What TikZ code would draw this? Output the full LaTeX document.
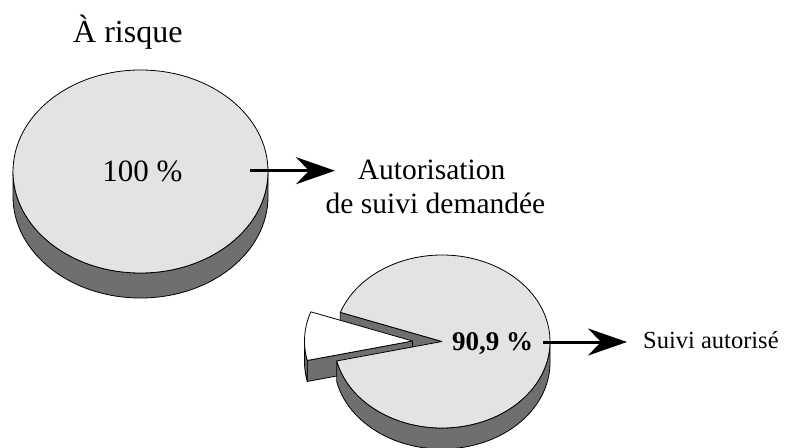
\documentclass[tikz,border=0pt]{standalone}
\usepackage{fontspec}
\setmainfont{Liberation Serif}
\usetikzlibrary{arrows.meta,calc}
\definecolor{topgray}{HTML}{E3E3E3}
\definecolor{sidegray}{HTML}{6F6F6F}
\tikzset{
  topface/.style={fill=topgray,draw=black,line width=0.8pt,line join=round},
  sideface/.style={fill=sidegray,draw=black,line width=0.8pt,line join=round},
  slicetop/.style={fill=white,draw=black,line width=0.8pt,line join=round},
  arr/.style={line width=3pt,-{Stealth[length=39pt,width=27pt,inset=13pt]}},
  lbl/.style={inner sep=0pt}
}
\begin{document}
\begin{tikzpicture}[x=1pt,y=1pt]
\useasboundingbox (0,0) rectangle (791,447);
% ---------- big pie
\coordinate (c1) at (140.5,275.5);
\draw[sideface] ($(c1)+(-127.5,0)$) -- ++(0,-25)
  arc[start angle=180,end angle=360,x radius=127.5pt,y radius=101.5pt]
  -- ++(0,25)
  arc[start angle=0,end angle=-180,x radius=127.5pt,y radius=101.5pt] -- cycle;
\draw[topface] (c1) ellipse[x radius=127.5pt,y radius=101.5pt];
% ---------- small pie
\coordinate (c2) at (442,105.5);
\coordinate (e2) at (412.5,106);
% back cut face of remaining pie (visible through gap)
\draw[sideface] (c2) -- ($(c2)+(160.3:108pt and 86.5pt)$) -- ++(0,-21) -- ($(c2)+(0,-21)$) -- cycle;
% exploded slice
\draw[sideface] (e2) -- ($(e2)+(193:108pt and 86.5pt)$) -- ++(0,-21) -- ($(e2)+(0,-21)$) -- cycle;
\draw[sideface] ($(e2)+(180:108pt and 86.5pt)$) -- ++(0,-21)
  arc[start angle=180,end angle=193,x radius=108pt,y radius=86.5pt]
  -- ++(0,21)
  arc[start angle=193,end angle=180,x radius=108pt,y radius=86.5pt] -- cycle;
\draw[slicetop] (e2) -- ($(e2)+(160.3:108pt and 86.5pt)$)
  arc[start angle=160.3,end angle=193,x radius=108pt,y radius=86.5pt] -- cycle;
% remaining pie rim
\draw[sideface] ($(c2)+(193:108pt and 86.5pt)$) -- ++(0,-21)
  arc[start angle=193,end angle=360,x radius=108pt,y radius=86.5pt]
  -- ++(0,21)
  arc[start angle=360,end angle=193,x radius=108pt,y radius=86.5pt] -- cycle;
% remaining pie top
\draw[topface] (c2) -- ($(c2)+(193:108pt and 86.5pt)$)
  arc[start angle=193,end angle=520.3,x radius=108pt,y radius=86.5pt] -- cycle;
% ---------- texts
\node[lbl,anchor=base west,font=\fontsize{32}{38}\selectfont] (risk) at (73,404) {À risque};
\node[lbl,anchor=base,font=\fontsize{31}{37}\selectfont] (p100) at (142.5,265) {100 \%};
\node[lbl,anchor=base,font=\fontsize{29.5}{34}\selectfont] (laba) at (431.5,267.7) {Autorisation};
\node[lbl,anchor=base,font=\fontsize{29.5}{34}\selectfont] (labb) at (435.5,233.7) {de suivi demandée};
\node[lbl,anchor=base west,font=\fontsize{27}{32}\selectfont\bfseries] (p909) at (452,97) {90,9 \%};
\node[lbl,anchor=base west,font=\fontsize{24.5}{29}\selectfont] (suivi) at (643,98.7) {Suivi autorisé};
% ---------- arrows
\coordinate (a1s) at (250,276.3);
\coordinate (a1e) at (335,276.3);
\draw[arr] (a1s) -- (a1e);
\coordinate (a2s) at (543,105);
\coordinate (a2e) at (627,105);
\draw[arr] (a2s) -- (a2e);
\end{tikzpicture}
\end{document}
